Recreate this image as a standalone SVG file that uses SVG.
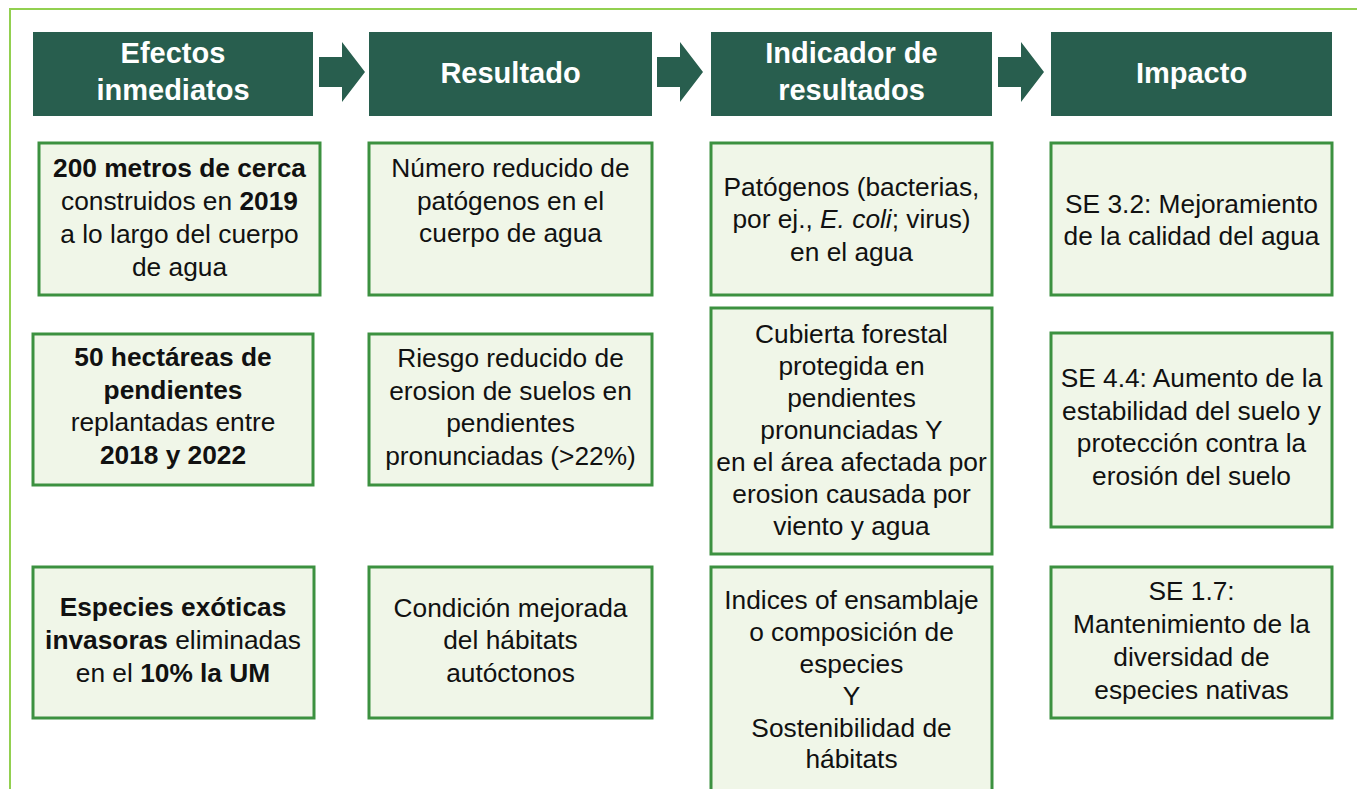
<svg xmlns="http://www.w3.org/2000/svg" width="1357" height="789" viewBox="0 0 1357 789">
<style>
.frame{fill:none;stroke:#92D050;stroke-width:2}
.hdr{fill:#285E4E}
.htxt{font-family:"Liberation Sans",Arial,sans-serif;font-size:29px;font-weight:bold;fill:#FFFFFF;text-anchor:middle}
.box{fill:#F0F6E8;stroke:#3C9140;stroke-width:3}
.txt{font-family:"Liberation Sans",Arial,sans-serif;font-size:26.3px;fill:#111111;text-anchor:middle}
.b{font-weight:bold}
.arrow{fill:#285E4E}
</style>
<rect width="1357" height="789" fill="#FFFFFF"/>
<path class="frame" d="M10,789 V9 H1357"/>

<g id="hdr-efectos"><rect class="hdr" x="33" y="32" width="280" height="84"/><text class="htxt" x="173" y="63">Efectos</text><text class="htxt" x="173" y="100">inmediatos</text></g>
<g id="hdr-resultado"><rect class="hdr" x="369" y="32" width="283" height="84"/><text class="htxt" x="510.5" y="83">Resultado</text></g>
<g id="hdr-indicador"><rect class="hdr" x="711" y="32" width="281" height="84"/><text class="htxt" x="851.5" y="63">Indicador de</text><text class="htxt" x="851.5" y="100">resultados</text></g>
<g id="hdr-impacto"><rect class="hdr" x="1051" y="32" width="281" height="84"/><text class="htxt" x="1191.5" y="83">Impacto</text></g>

<g id="connectors">
<polygon class="arrow" points="319,57 342,57 342,42 365,72 342,102 342,87 319,87"/>
<polygon class="arrow" points="657,57 680,57 680,42 703,72 680,102 680,87 657,87"/>
<polygon class="arrow" points="998,57 1021,57 1021,42 1044,72 1021,102 1021,87 998,87"/>
</g>

<g id="c1-r1"><rect class="box" x="39" y="143" width="281" height="152"/>
<text class="txt" x="179.5" y="177"><tspan class="b">200 metros de cerca</tspan></text>
<text class="txt" x="179.5" y="210">construidos en <tspan class="b">2019</tspan></text>
<text class="txt" x="179.5" y="243">a lo largo del cuerpo</text>
<text class="txt" x="179.5" y="276">de agua</text></g>

<g id="c1-r2"><rect class="box" x="33" y="334" width="280" height="151"/>
<text class="txt b" x="173" y="366">50 hectáreas de</text>
<text class="txt b" x="173" y="398.5">pendientes</text>
<text class="txt" x="173" y="431">replantadas entre</text>
<text class="txt b" x="173" y="463.5">2018 y 2022</text></g>

<g id="c1-r3"><rect class="box" x="33" y="567" width="281" height="151"/>
<text class="txt b" x="173" y="616">Especies exóticas</text>
<text class="txt" x="173" y="649"><tspan class="b">invasoras</tspan> eliminadas</text>
<text class="txt" x="173" y="682">en el <tspan class="b">10% la UM</tspan></text></g>

<g id="c2-r1"><rect class="box" x="369" y="143" width="283" height="152"/>
<text class="txt" x="510.5" y="177">Número reducido de</text>
<text class="txt" x="510.5" y="209.5">patógenos en el</text>
<text class="txt" x="510.5" y="242">cuerpo de agua</text></g>

<g id="c2-r2"><rect class="box" x="369" y="334" width="283" height="151"/>
<text class="txt" x="510.5" y="367">Riesgo reducido de</text>
<text class="txt" x="510.5" y="399.5">erosion de suelos en</text>
<text class="txt" x="510.5" y="432">pendientes</text>
<text class="txt" x="510.5" y="464.5">pronunciadas (&gt;22%)</text></g>

<g id="c2-r3"><rect class="box" x="369" y="567" width="283" height="151"/>
<text class="txt" x="510.5" y="616.5">Condición mejorada</text>
<text class="txt" x="510.5" y="649">del hábitats</text>
<text class="txt" x="510.5" y="681.5">autóctonos</text></g>

<g id="c3-r1"><rect class="box" x="711" y="143" width="281" height="152"/>
<text class="txt" x="851.5" y="195.5">Patógenos (bacterias,</text>
<text class="txt" x="851.5" y="228">por ej., <tspan font-style="italic">E. coli</tspan>; virus)</text>
<text class="txt" x="851.5" y="260.5">en el agua</text></g>

<g id="c3-r2"><rect class="box" x="711" y="308" width="281" height="246"/>
<text class="txt" x="851.5" y="343">Cubierta forestal</text>
<text class="txt" x="851.5" y="375">protegida en</text>
<text class="txt" x="851.5" y="407">pendientes</text>
<text class="txt" x="851.5" y="439">pronunciadas Y</text>
<text class="txt" x="851.5" y="471">en el área afectada por</text>
<text class="txt" x="851.5" y="503">erosion causada por</text>
<text class="txt" x="851.5" y="535">viento y agua</text></g>

<g id="c3-r3"><rect class="box" x="711" y="567" width="281" height="240"/>
<text class="txt" x="851.5" y="609">Indices of ensamblaje</text>
<text class="txt" x="851.5" y="641">o composición de</text>
<text class="txt" x="851.5" y="673">especies</text>
<text class="txt" x="851.5" y="704.5">Y</text>
<text class="txt" x="851.5" y="736.5">Sostenibilidad de</text>
<text class="txt" x="851.5" y="768">hábitats</text></g>

<g id="c4-r1"><rect class="box" x="1051" y="143" width="281" height="152"/>
<text class="txt" x="1191.5" y="212.5">SE 3.2: Mejoramiento</text>
<text class="txt" x="1191.5" y="245">de la calidad del agua</text></g>

<g id="c4-r2"><rect class="box" x="1051" y="333" width="281" height="194"/>
<text class="txt" x="1191.5" y="387">SE 4.4: Aumento de la</text>
<text class="txt" x="1191.5" y="419.5">estabilidad del suelo y</text>
<text class="txt" x="1191.5" y="452">protección contra la</text>
<text class="txt" x="1191.5" y="484.5">erosión del suelo</text></g>

<g id="c4-r3"><rect class="box" x="1051" y="567" width="281" height="151"/>
<text class="txt" x="1191.5" y="600">SE 1.7:</text>
<text class="txt" x="1191.5" y="633">Mantenimiento de la</text>
<text class="txt" x="1191.5" y="666">diversidad de</text>
<text class="txt" x="1191.5" y="699">especies nativas</text></g>
</svg>
